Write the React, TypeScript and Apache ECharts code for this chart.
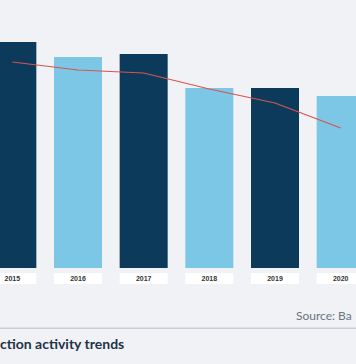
import React, { useEffect, useRef } from "react";
import * as echarts from "echarts";

const years = ["2015", "2016", "2017", "2018", "2019", "2020"];
const barValues = [226, 211, 214, 180, 180, 172];
const lineValues = [206, 198, 195, 179, 165, 140];
const barColors = ["#0b3a5b", "#7cc7e5"];
const sourceText = "Source: Ba";
const titleText = "ction activity trends";

const OFF = 40; // chart canvas extends past the visible frame on both sides

export default function App() {
  const ref = useRef<HTMLDivElement>(null);
  useEffect(() => {
    if (!ref.current) return;
    const chart = echarts.init(ref.current, undefined, { renderer: "svg" });
    chart.setOption({
      animation: false,
      backgroundColor: "#f0f2f5",
      grid: { left: OFF - 20.5, right: OFF - 17.5, top: 18, bottom: 96, containLabel: false },
      xAxis: {
        type: "category",
        data: years,
        axisLine: { show: false },
        axisTick: { show: false },
        axisLabel: {
          margin: 5,
          fontSize: 7,
          fontWeight: "bold",
          color: "#333",
          fontFamily: "Liberation Sans, Arial, sans-serif",
          backgroundColor: "#ffffff",
          width: 48,
          height: 11,
          lineHeight: 11,
          align: "center",
        },
      },
      yAxis: {
        type: "value",
        min: 0,
        max: 250,
        show: false,
        splitLine: { show: false },
      },
      series: [
        {
          type: "bar",
          data: barValues.map((v, i) => ({
            value: v,
            itemStyle: { color: barColors[i % 2] },
          })),
          barWidth: 48,
        },
        {
          type: "line",
          data: lineValues,
          showSymbol: false,
          symbol: "none",
          lineStyle: { color: "#d9534f", width: 1.2 },
          z: 5,
        },
      ],
      graphic: [
        {
          type: "text",
          x: OFF + 296,
          y: 315,
          style: {
            text: sourceText,
            fill: "#6b7480",
            font: "normal 12px Lato, sans-serif",
            verticalAlign: "middle",
          },
        },
        {
          type: "rect",
          shape: { x: 0, y: 327.5, width: 436, height: 1.5 },
          style: { fill: "#c9ced4" },
        },
        {
          type: "text",
          x: OFF,
          y: 343,
          style: {
            text: titleText,
            fill: "#1f3348",
            font: "bold 14px Lato, sans-serif",
            verticalAlign: "middle",
          },
        },
      ],
    });
    return () => chart.dispose();
  }, []);
  return (
    <div
      style={{
        position: "fixed",
        left: 0,
        top: 0,
        width: 356,
        height: 364,
        overflow: "hidden",
      }}
    >
      <div
        ref={ref}
        style={{ position: "absolute", left: -OFF, top: 0, width: 356 + 2 * OFF, height: 364 }}
      />
    </div>
  );
}
